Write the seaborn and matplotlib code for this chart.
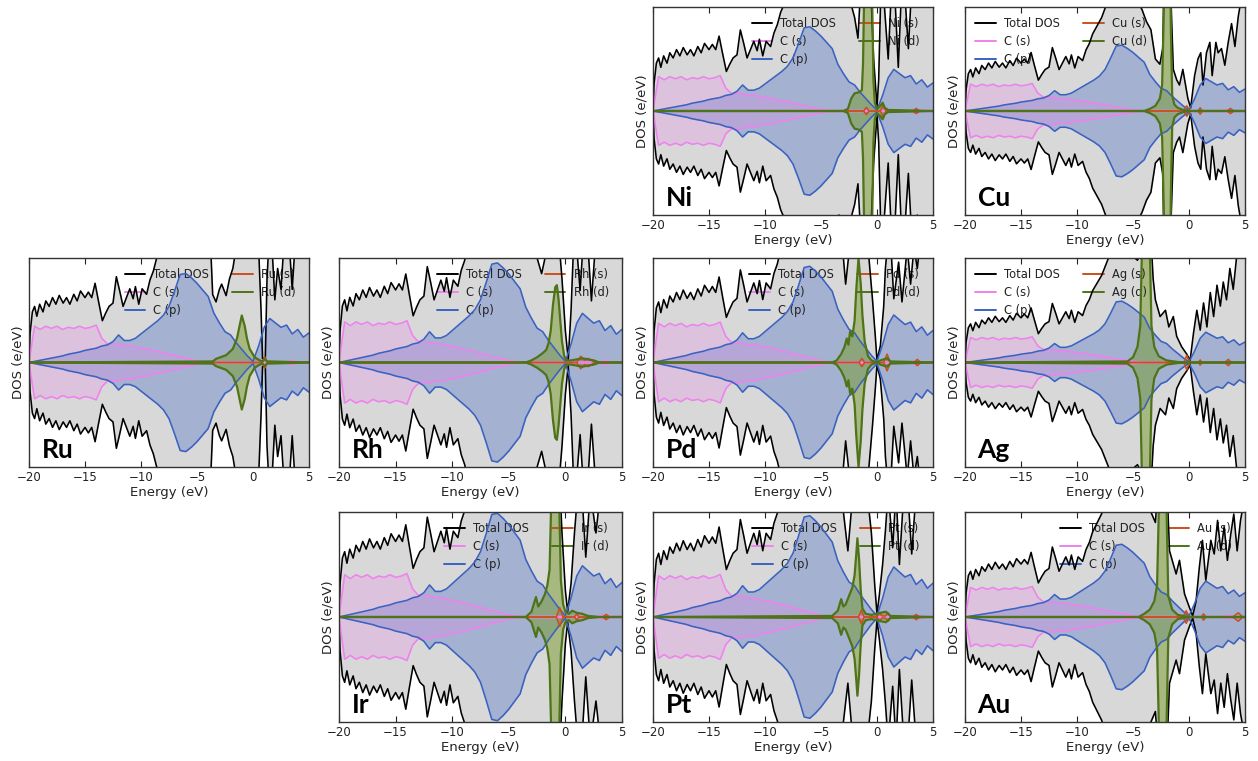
import numpy as np
import matplotlib
matplotlib.use("Agg")
import matplotlib.pyplot as plt
from matplotlib.lines import Line2D
import seaborn as sns

sns.set_theme(style="white")
plt.rcParams["font.family"] = ["DejaVu Sans"]
plt.rcParams["axes.unicode_minus"] = True

# ---------------- shared carbon data (units: Ni panel half-height = 1) ----------
E_GRID = np.linspace(-20, 5, 51)
C_S = [0.0, 0.33, 0.30, 0.33, 0.31, 0.33, 0.30, 0.32, 0.31, 0.33, 0.31, 0.32, 0.34,
       0.22, 0.17, 0.17, 0.165, 0.15, 0.155, 0.14, 0.13, 0.125, 0.11, 0.10, 0.09,
       0.075, 0.065, 0.05, 0.04, 0.03, 0.015, 0.01, 0.005, 0.005, 0.005, 0.005,
       0.005, 0.005, 0.005, 0.005, 0.0, 0.005, 0.005, 0.005, 0.005, 0.005, 0.005,
       0.02, 0.005, 0.005, 0.005]
C_P = [0.0, 0.01, 0.02, 0.03, 0.04, 0.05, 0.06, 0.075, 0.085, 0.095, 0.11, 0.12, 0.13,
       0.15, 0.16, 0.19, 0.25, 0.20, 0.20, 0.22, 0.26, 0.30, 0.34, 0.38, 0.43, 0.51,
       0.65, 0.80, 0.81, 0.77, 0.72, 0.66, 0.60, 0.45, 0.36, 0.28, 0.25, 0.18, 0.12,
       0.06, 0.01, 0.15, 0.32, 0.40, 0.36, 0.32, 0.34, 0.26, 0.30, 0.23, 0.27]
TOT_C_E = [-20, -19.9, -19.7, -19.5, -19.3, -19.05, -18.75, -18.5, -18.2, -17.9, -17.6,
           -17.3, -16.95, -16.65, -16.35, -16.0, -15.7, -15.4, -15.0, -14.7, -14.4,
           -14.1, -13.8, -13.45, -13.15, -12.85, -12.5, -12.2, -11.9, -11.6, -11.3,
           -11.0, -10.7, -10.5, -10.2, -9.9, -9.5, -9.2, -8.9, -8.6, -8.2, -7.8, -7.4,
           -7.0, -6.6, -6.2, -5.8, -5.4, -5.0, -4.6, -4.2, -3.8, -3.4]
TOT_C = [0.0, 0.27, 0.46, 0.51, 0.42, 0.53, 0.46, 0.56, 0.51, 0.59, 0.53, 0.61, 0.54,
         0.59, 0.53, 0.62, 0.56, 0.65, 0.59, 0.64, 0.59, 0.72, 0.56, 0.38, 0.45, 0.51,
         0.54, 0.78, 0.65, 0.51, 0.59, 0.67, 0.58, 0.69, 0.53, 0.67, 0.62, 0.75, 0.83,
         0.95, 1.05, 1.15, 1.3, 1.45, 1.6, 1.6, 1.55, 1.45, 1.4, 1.35, 1.25, 1.1, 1.0]

# ---------------- per-metal data (fractions of each panel's half-height) -----------
METALS = ["Ni", "Cu", "Ru", "Rh", "Pd", "Ag", "Ir", "Pt", "Au"]
YMAX = {"Ni": 1.0, "Cu": 1.28, "Ru": 0.95, "Rh": 0.85, "Pd": 0.88, "Ag": 1.38,
        "Ir": 0.82, "Pt": 0.84, "Au": 1.17}

TOT_M_E = {
    "Ni": [-3.0, -2.5, -2.0, -1.7, -1.4, -1.0, -0.6, -0.3, 0.0, 0.15, 0.35, 0.6, 1.0, 1.3,
           1.6, 1.9, 2.2, 2.5, 2.8, 3.1, 3.6, 4.0, 5.0],
    "Cu": [-3.0, -2.6, -2.35, -2.2, -1.95, -1.65, -1.4, -1.1, -0.85, -0.55, -0.1, 0.15, 0.5,
           0.8, 1.05, 1.25, 1.56, 1.86, 2.07, 2.4, 2.6, 2.9, 3.2, 3.5, 3.8, 4.1, 4.4, 4.7, 5.0],
    "Ru": [-3.6, -3.3, -3.0, -2.8, -2.4, -2.1, -1.8, -1.5, -1.2, -0.9, -0.5, -0.2, 0.2, 0.5,
           0.72, 0.85, 1.1, 1.25, 1.45, 1.7, 1.95, 2.2, 2.5, 2.8, 3.2, 3.5, 3.8, 5.0],
    "Rh": [-3.0, -2.5, -2.1, -1.8, -1.4, -1.0, -0.6, -0.3, 0.0, 0.25, 0.5, 0.75, 1.0, 1.3,
           1.6, 2.0, 2.3, 2.7, 3.2, 4.0, 5.0],
    "Pd": [-3.0, -2.8, -2.55, -2.3, -2.0, -1.6, -1.2, -0.8, -0.4, -0.15, 0.0, 0.3, 0.6, 0.75,
           1.0, 1.2, 1.5, 1.93, 2.23, 2.7, 3.0, 3.3, 3.6, 4.0, 5.0],
    "Ag": [-4.5, -4.3, -3.85, -3.4, -3.2, -3.0, -2.58, -2.1, -1.8, -1.4, -1.1, -0.65, -0.2,
           0.1, 0.4, 0.7, 1.0, 1.3, 1.6, 1.9, 2.2, 2.5, 2.8, 3.06, 3.35, 3.65, 3.95, 4.24,
           4.7, 5.0],
    "Ir": [-3.0, -2.6, -2.2, -1.6, -1.0, -0.6, -0.3, 0.0, 0.2, 0.5, 0.8, 1.1, 1.5, 1.8, 2.2,
           2.7, 3.1, 4.0, 5.0],
    "Pt": [-3.0, -2.6, -2.3, -2.0, -1.7, -1.3, -0.9, -0.5, -0.2, 0.0, 0.2, 0.5, 0.75, 1.0,
           1.4, 1.7, 2.0, 2.4, 2.8, 3.1, 3.5, 5.0],
    "Au": [-4.0, -3.4, -3.0, -2.8, -2.35, -1.95, -1.74, -1.15, -0.85, -0.4, 0.04, 0.33, 0.63,
           0.92, 1.2, 1.5, 1.95, 2.25, 2.55, 2.84, 3.14, 3.43, 3.73, 4.0, 4.3, 4.6, 4.9, 5.0],
}
TOT_M = {
    "Ni": [1.05, 1.1, 0.9, 0.7, 1.3, 2.5, 1.3, 0.5, 0.04, 0.3, 1.2, 1.1, 0.5, 1.2, 1.1, 0.42,
           1.2, 1.1, 0.6, 1.2, 1.0, 1.3, 1.3],
    "Cu": [0.5, 0.45, 0.6, 1.3, 2.5, 1.2, 0.4, 0.3, 0.25, 0.4, 0.12, 0.03, 0.34, 0.5, 0.56,
           0.25, 0.56, 0.66, 0.34, 0.66, 0.56, 0.6, 0.44, 0.66, 0.84, 0.62, 0.91, 1.1, 1.2],
    "Ru": [0.65, 0.58, 0.7, 0.75, 0.64, 0.8, 0.9, 1.1, 1.1, 1.2, 1.3, 1.3, 1.3, 1.1, 0.5,
           0.04, 0.04, 0.8, 1.2, 1.1, 0.6, 0.9, 0.7, 1.2, 1.2, 0.7, 1.2, 1.3],
    "Rh": [1.1, 1.0, 0.85, 1.0, 1.2, 1.4, 1.2, 0.8, 0.3, 0.03, 0.5, 1.2, 1.1, 0.69, 1.2, 1.1,
           0.59, 1.2, 1.3, 1.3, 1.3],
    "Pd": [1.0, 0.75, 1.0, 1.2, 1.4, 2.0, 1.4, 1.1, 0.6, 0.25, 0.02, 0.16, 0.54, 0.9, 1.2,
           1.2, 0.61, 0.96, 0.58, 1.1, 0.75, 1.1, 0.9, 1.3, 1.3],
    "Ag": [1.0, 1.2, 3.0, 1.2, 0.8, 0.6, 0.44, 0.5, 0.34, 0.44, 0.25, 0.15, 0.08, 0.02, 0.28,
           0.5, 0.31, 0.57, 0.34, 0.67, 0.44, 0.74, 0.54, 0.77, 0.6, 0.9, 0.7, 1.0, 1.1, 1.2],
    "Ir": [1.2, 1.1, 1.2, 1.4, 2.5, 1.5, 0.8, 0.25, 0.05, 0.32, 0.8, 1.2, 1.1, 0.57, 1.2, 0.8,
           1.2, 1.3, 1.3],
    "Pt": [1.0, 0.63, 1.0, 1.3, 1.6, 1.3, 1.2, 0.8, 0.3, 0.03, 0.2, 0.5, 0.82, 1.2, 0.66, 1.2,
           0.5, 1.2, 1.1, 0.6, 1.2, 1.3],
    "Au": [1.1, 1.0, 0.9, 1.2, 3.0, 1.2, 0.63, 0.41, 0.54, 0.22, 0.09, 0.01, 0.15, 0.47, 0.73,
           0.35, 0.73, 0.6, 0.92, 0.63, 0.86, 0.54, 0.79, 0.98, 0.63, 0.92, 1.1, 1.15],
}
D_E = {
    "Ni": [-20, -3.0, -2.6, -2.3, -2.0, -1.6, -1.35, -1.25, -1.15, -1.05, -0.75, -0.5, -0.42,
           -0.32, -0.2, 0.0, 0.3, 0.5, 0.7, 1.0, 5.0],
    "Cu": [-20, -4.0, -3.5, -3.0, -2.6, -2.4, -2.28, -2.15, -1.95, -1.75, -1.62, -1.5, -1.3,
           -1.0, -0.5, 0.0, 5.0],
    "Ru": [-20, -3.6, -3.3, -2.4, -1.8, -1.43, -1.2, -1.0, -0.74, -0.54, -0.3, 0.15, 0.6,
           0.85, 1.04, 1.25, 1.5, 5.0],
    "Rh": [-20, -3.5, -3.0, -2.5, -2.0, -1.7, -1.5, -1.3, -1.1, -0.9, -0.75, -0.6, -0.45,
           -0.3, -0.1, 0.1, 0.5, 1.5, 2.5, 3.0, 5.0],
    "Pd": [-20, -4.0, -3.6, -3.2, -2.9, -2.7, -2.55, -2.4, -2.2, -2.0, -1.85, -1.65, -1.45,
           -1.3, -1.1, -0.8, -0.5, 0.0, 0.3, 0.9, 1.2, 5.0],
    "Ag": [-20, -5.5, -5.0, -4.6, -4.35, -4.22, -4.1, -3.85, -3.6, -3.48, -3.35, -3.1, -2.7,
           -2.0, -1.0, 0.0, 5.0],
    "Ir": [-20, -3.5, -3.0, -2.6, -2.4, -2.1, -1.8, -1.6, -1.4, -1.25, -1.0, -0.75, -0.55,
           -0.4, -0.2, 0.0, 0.3, 0.6, 1.0, 1.5, 2.0, 3.0, 5.0],
    "Pt": [-20, -4.0, -3.5, -3.2, -3.0, -2.8, -2.5, -2.2, -2.0, -1.85, -1.75, -1.6, -1.45,
           -1.3, -1.0, -0.5, 0.3, 0.8, 1.2, 5.0],
    "Au": [-20, -4.5, -4.0, -3.5, -3.1, -2.85, -2.7, -2.6, -2.35, -2.1, -2.0, -1.85, -1.5,
           -1.0, 0.0, 5.0],
}
D_V = {
    "Ni": [0, 0.0, 0.02, 0.12, 0.17, 0.18, 0.2, 0.45, 1.1, 2.2, 3.0, 2.2, 1.0, 0.3, 0.08,
           0.02, 0.05, 0.08, 0.03, 0.01, 0.0],
    "Cu": [0, 0.0, 0.02, 0.05, 0.12, 0.25, 0.8, 2.5, 3.0, 2.5, 0.8, 0.15, 0.06, 0.03, 0.01,
           0.0, 0.0],
    "Ru": [0, 0.01, 0.035, 0.07, 0.13, 0.23, 0.35, 0.45, 0.35, 0.23, 0.13, 0.05, 0.02, 0.01,
           0.035, 0.01, 0.01, 0.0],
    "Rh": [0, 0.0, 0.02, 0.05, 0.09, 0.12, 0.18, 0.3, 0.55, 0.72, 0.74, 0.6, 0.4, 0.2, 0.06,
           0.02, 0.02, 0.04, 0.02, 0.0, 0.0],
    "Pd": [0, 0.0, 0.02, 0.08, 0.15, 0.23, 0.17, 0.3, 0.25, 0.4, 0.7, 1.0, 0.75, 0.45, 0.2,
           0.06, 0.02, 0.0, 0.02, 0.04, 0.01, 0.0],
    "Ag": [0, 0.01, 0.05, 0.15, 0.35, 1.0, 2.5, 3.0, 2.5, 1.0, 0.35, 0.15, 0.06, 0.02, 0.005,
           0.0, 0.0],
    "Ir": [0, 0.0, 0.05, 0.19, 0.1, 0.15, 0.22, 0.3, 0.45, 1.1, 2.5, 2.5, 1.1, 0.35, 0.12,
           0.05, 0.03, 0.06, 0.04, 0.03, 0.01, 0.0, 0.0],
    "Pt": [0, 0.01, 0.06, 0.17, 0.1, 0.12, 0.2, 0.28, 0.4, 0.6, 0.75, 0.55, 0.25, 0.08, 0.03,
           0.02, 0.04, 0.05, 0.01, 0.0],
    "Au": [0, 0.0, 0.03, 0.07, 0.15, 0.3, 1.0, 2.5, 3.0, 2.5, 1.0, 0.2, 0.07, 0.02, 0.0, 0.0],
}
S_E = {
    "Ni": [-20, -1.2, -0.95, -0.7, 0.3, 0.55, 0.8, 3.2, 3.5, 3.8, 5.0],
    "Cu": [-20, -0.5, -0.2, 0.1, 0.8, 1.0, 1.2, 3.4, 3.7, 4.0, 5.0],
    "Ru": [-20, 0.8, 1.05, 1.3, 5.0],
    "Rh": [-20, 1.0, 1.35, 1.7, 2.0, 2.3, 2.6, 5.0],
    "Pd": [-20, -1.6, -1.35, -1.1, 0.6, 0.9, 1.2, 3.3, 3.6, 3.9, 5.0],
    "Ag": [-20, -0.45, -0.2, 0.05, 0.85, 1.0, 1.15, 3.2, 3.5, 3.8, 5.0],
    "Ir": [-20, -0.8, -0.5, -0.2, 0.8, 1.0, 1.2, 3.3, 3.6, 3.9, 5.0],
    "Pt": [-20, -1.65, -1.4, -1.15, 0.0, 0.2, 0.45, 0.75, 1.0, 1.25, 3.2, 3.5, 3.8, 5.0],
    "Au": [-20, -0.55, -0.25, 0.05, 1.1, 1.3, 1.5, 3.9, 4.4, 4.8, 5.0],
}
S_V = {
    "Ni": [0, 0, 0.035, 0, 0, 0.06, 0, 0, 0.025, 0, 0],
    "Cu": [0, 0, 0.05, 0, 0, 0.03, 0, 0, 0.025, 0, 0],
    "Ru": [0, 0, 0.055, 0, 0],
    "Rh": [0, 0, 0.06, 0.02, 0.04, 0.02, 0, 0],
    "Pd": [0, 0, 0.04, 0, 0, 0.08, 0, 0, 0.03, 0, 0],
    "Ag": [0, 0, 0.07, 0, 0, 0.025, 0, 0, 0.03, 0, 0],
    "Ir": [0, 0, 0.09, 0, 0, 0.03, 0, 0, 0.025, 0, 0],
    "Pt": [0, 0, 0.065, 0, 0, 0.04, 0.01, 0.01, 0.04, 0, 0, 0.025, 0, 0],
    "Au": [0, 0, 0.06, 0, 0, 0.03, 0, 0, 0.04, 0, 0],
}

XTICKS = [-20, -15, -10, -5, 0, 5]
LEGEND_LEFT = {"Cu", "Ag"}

# ---------------- layout (pixel boxes: left, top, width, height) ----------------
FIG_W, FIG_H = 1258, 761
COL_X = [29, 339, 653, 965]
COL_W = [280, 283, 280, 280]
ROW_Y = [7, 258, 512]
ROW_H = [208, 209, 210]
GRID = {"Ni": (0, 2), "Cu": (0, 3), "Ru": (1, 0), "Rh": (1, 1), "Pd": (1, 2),
        "Ag": (1, 3), "Ir": (2, 1), "Pt": (2, 2), "Au": (2, 3)}

C_TOT = "black"
C_GREY = "#d8d8d8"
C_CS = "#ee82ee"
C_CP = "#3a62c0"
C_MS = "#c8501e"
C_MD = "#4e7318"
C_MD_FILL = "#779a2c"

fig = plt.figure(figsize=(FIG_W / 100, FIG_H / 100), dpi=100)
fig.patch.set_facecolor("white")


def mirror_plot(ax, x, y, color, lw, z):
    x = np.asarray(x, float)
    y = np.asarray(y, float)
    for sgn in (1, -1):
        sns.lineplot(x=x, y=sgn * y, ax=ax, color=color, lw=lw, estimator=None,
                     sort=False, legend=False, zorder=z)


def mirror_fill(ax, x, y, color, alpha, z):
    x = np.asarray(x, float)
    y = np.asarray(y, float)
    ax.fill_between(x, 0, y, color=color, alpha=alpha, lw=0, zorder=z)
    ax.fill_between(x, 0, -y, color=color, alpha=alpha, lw=0, zorder=z)


for m in METALS:
    r, c = GRID[m]
    l = COL_X[c] / FIG_W
    b = (FIG_H - ROW_Y[r] - ROW_H[r]) / FIG_H
    ax = fig.add_axes([l, b, COL_W[c] / FIG_W, ROW_H[r] / FIG_H])
    ym = YMAX[m]

    e0 = TOT_M_E[m][0]
    tot_e = [x for x in TOT_C_E if x < e0] + TOT_M_E[m]
    tot_v = [y for x, y in zip(TOT_C_E, TOT_C) if x < e0] + [f * ym for f in TOT_M[m]]
    d_v = [f * ym for f in D_V[m]]
    s_v = [f * ym for f in S_V[m]]

    mirror_fill(ax, tot_e, tot_v, C_GREY, 1.0, 1)
    mirror_fill(ax, E_GRID, C_P, C_CP, 0.33, 2)
    mirror_fill(ax, E_GRID, C_S, C_CS, 0.25, 3)
    mirror_fill(ax, D_E[m], d_v, C_MD_FILL, 0.5, 4)
    mirror_fill(ax, S_E[m], s_v, C_MS, 0.25, 4)

    mirror_plot(ax, tot_e, tot_v, C_TOT, 1.15, 6)
    mirror_plot(ax, E_GRID, C_S, C_CS, 1.15, 6)
    mirror_plot(ax, E_GRID, C_P, C_CP, 1.15, 6)
    mirror_plot(ax, S_E[m], s_v, C_MS, 1.1, 7)
    mirror_plot(ax, D_E[m], d_v, C_MD, 1.6, 7)

    ax.set_xlim(-20, 5)
    ax.set_ylim(-ym, ym)
    ax.set_xticks(XTICKS)
    ax.set_yticks([])
    ax.tick_params(axis="x", direction="in", top=True, bottom=True, length=4,
                   width=0.8, labelsize=8.5, pad=3, colors="#222222")
    ax.set_xlabel("Energy (eV)", fontsize=9.5, labelpad=1, color="#222222")
    ax.set_ylabel("DOS (e/eV)", fontsize=9.5, labelpad=3, color="#222222")
    ax.set_facecolor("white")
    for sp in ax.spines.values():
        sp.set_color("#333333")
        sp.set_linewidth(1.0)
        sp.set_zorder(10)

    handles = [Line2D([], [], color=C_TOT, lw=1.4), Line2D([], [], color=C_CS, lw=1.4),
               Line2D([], [], color=C_CP, lw=1.4), Line2D([], [], color=C_MS, lw=1.4),
               Line2D([], [], color=C_MD, lw=1.4)]
    labels = ["Total DOS", "C (s)", "C (p)", f"{m} (s)", f"{m} (d)"]
    if m in LEGEND_LEFT:
        leg = ax.legend(handles, labels, ncol=2, frameon=False, loc="upper left",
                        bbox_to_anchor=(0.0, 1.0), fontsize=8.3, handlelength=1.8,
                        handletextpad=0.7, columnspacing=2.0, labelspacing=0.4)
    else:
        leg = ax.legend(handles, labels, ncol=2, frameon=False, loc="upper right",
                        bbox_to_anchor=(0.99, 1.0), fontsize=8.3, handlelength=1.8,
                        handletextpad=0.7, columnspacing=2.0, labelspacing=0.4)
    for t in leg.get_texts():
        t.set_color("#222222")
    leg.set_zorder(5)

    ax.text(0.045, 0.045, m, transform=ax.transAxes, fontsize=19, fontweight="bold",
            family=["Lato", "DejaVu Sans"], ha="left", va="baseline", zorder=12,
            color="black")

fig.savefig("out.png", dpi=100, facecolor="white")
